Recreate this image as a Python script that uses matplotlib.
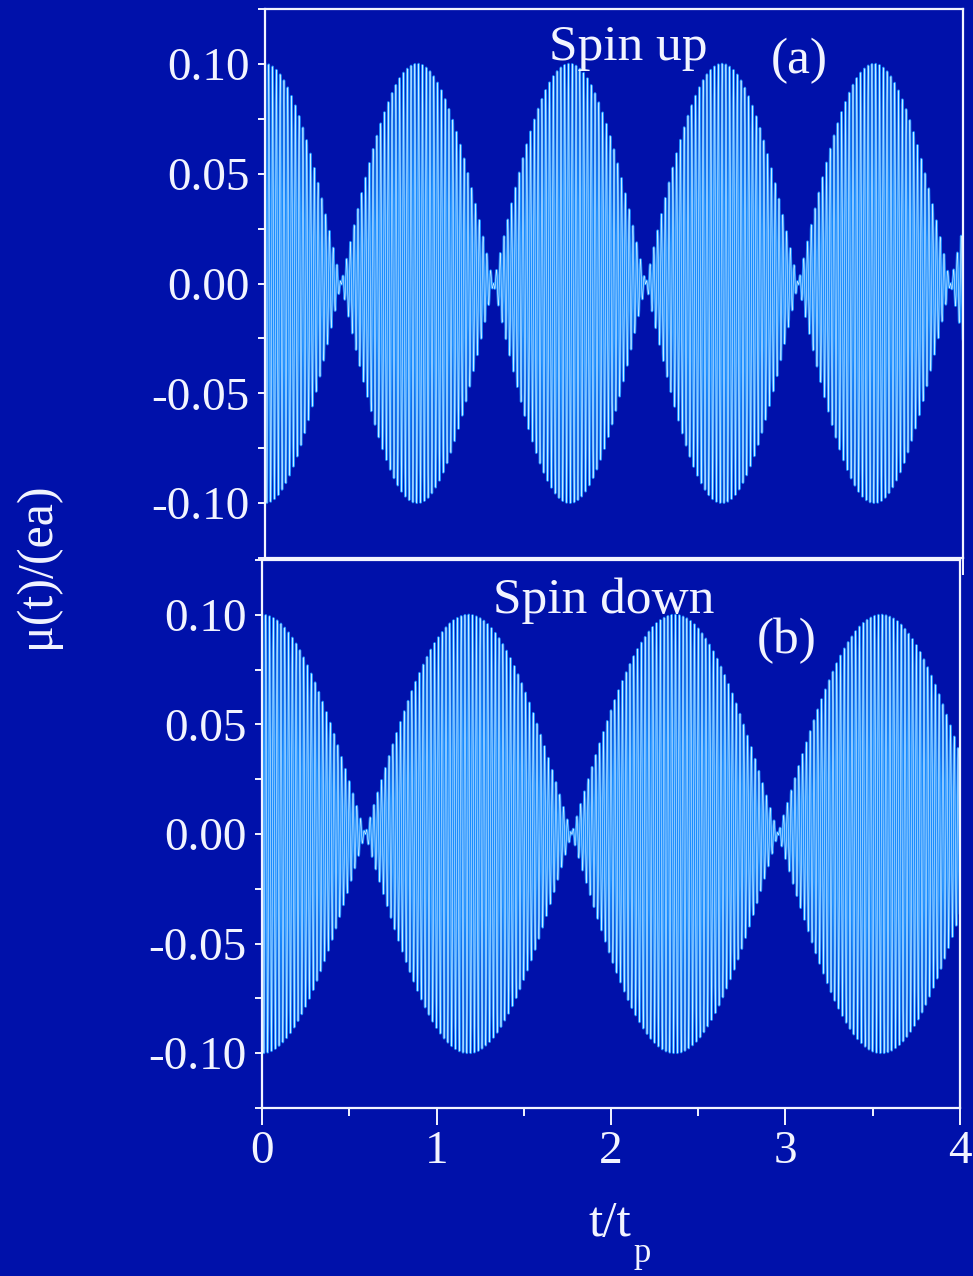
import numpy as np
import matplotlib
matplotlib.use("Agg")
import matplotlib.pyplot as plt

# Dipole oscillation parameters for the two spin channels
amplitude = 0.10                 # mu(0)/(ea)
beat_period_up = 0.873           # period of |envelope|, spin up (units of t_p)
beat_period_down = 1.183         # period of |envelope|, spin down
carrier_cycles = 46.0            # fast oscillations per t_p
t_max = 4.0
n_samples = 12000

y_ticks = [-0.10, -0.05, 0.00, 0.05, 0.10]
y_tick_labels = ["-0.10", "-0.05", "0.00", "0.05", "0.10"]
x_ticks = [0, 1, 2, 3, 4]
x_tick_labels = ["0", "1", "2", "3", "4"]
panel_titles = ["Spin up", "Spin down"]
panel_tags = ["(a)", "(b)"]

bg = "#0011AA"
fg = "#F2F4FF"
line_mid = "#1A8CFF"
line_hi = "#CDEBFF"

plt.rcParams["font.family"] = ["Liberation Serif", "DejaVu Serif"]

W, H = 973, 1276
fig = plt.figure(figsize=(W / 100, H / 100), dpi=100, facecolor=bg)


def box(l, r, t, b):
    return [l / W, 1 - b / H, (r - l) / W, (b - t) / H]


ax_up = fig.add_axes(box(265, 963, 9, 558))
ax_dn = fig.add_axes(box(262, 960, 560, 1108))

t = np.linspace(0.0, t_max, n_samples)
carrier = np.cos(2 * np.pi * carrier_cycles * t)
mu_up = amplitude * np.cos(np.pi * t / beat_period_up) * carrier
mu_dn = amplitude * np.cos(np.pi * t / beat_period_down) * carrier

for ax, mu in [(ax_up, mu_up), (ax_dn, mu_dn)]:
    ax.set_facecolor(bg)
    ax.plot(t, mu, color=line_mid, lw=1.8)
    ax.plot(t, mu, color=line_hi, lw=0.45)
    ax.set_xlim(0, t_max)
    ax.set_ylim(-0.125, 0.125)
    ax.set_yticks(y_ticks)
    ax.set_yticklabels(y_tick_labels)
    ax.set_yticks(np.arange(-0.125, 0.1251, 0.025), minor=True)
    ax.set_xticks(x_ticks)
    ax.set_xticks(np.arange(0.5, t_max, 1.0), minor=True)
    for s in ax.spines.values():
        s.set_color(fg)
        s.set_linewidth(1.6)
    ax.tick_params(axis="both", which="both", direction="out", color=fg,
                   labelcolor=fg, labelsize=34, width=1.4)
    ax.tick_params(axis="y", which="both", length=5, pad=6)
    ax.tick_params(axis="x", which="major", length=12, pad=4)
    ax.tick_params(axis="x", which="minor", length=6)

ax_up.set_xticklabels([])
ax_dn.set_xticklabels(x_tick_labels)

ax_up.text(0.52, 0.93, panel_titles[0], transform=ax_up.transAxes,
           color=fg, fontsize=37, ha="center", va="center")
ax_up.text(0.765, 0.905, panel_tags[0], transform=ax_up.transAxes,
           color=fg, fontsize=37, ha="center", va="center")
ax_dn.text(0.49, 0.925, panel_titles[1], transform=ax_dn.transAxes,
           color=fg, fontsize=37, ha="center", va="center")
ax_dn.text(0.752, 0.852, panel_tags[1], transform=ax_dn.transAxes,
           color=fg, fontsize=37, ha="center", va="center")

fig.text(37 / W, 1 - 565 / H, "μ(t)/(ea)", color=fg, fontsize=36,
         rotation=90, ha="center", va="center")
fig.text(631 / W, 1 - 1236 / H, "t/t", color=fg, fontsize=37,
         ha="right", va="baseline")
fig.text(634 / W, 1 - 1262 / H, "p", color=fg, fontsize=25,
         ha="left", va="baseline")

fig.savefig("out.png", dpi=100, facecolor=bg)
